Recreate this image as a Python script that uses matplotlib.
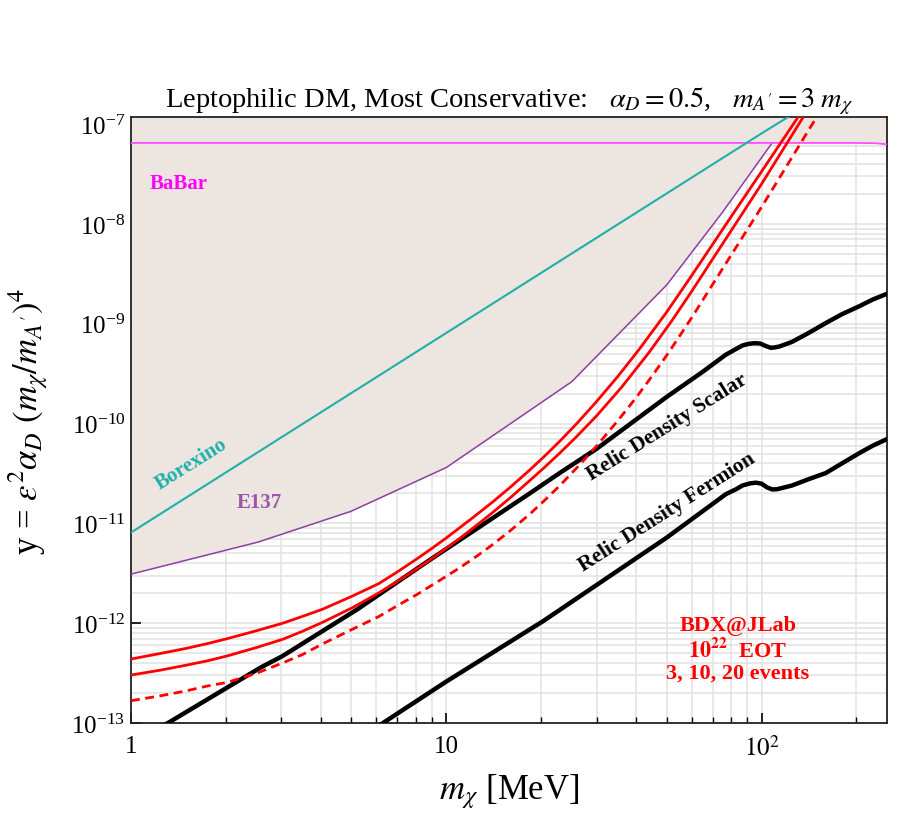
import matplotlib
matplotlib.use('Agg')
import matplotlib.pyplot as plt
import numpy as np
from matplotlib.ticker import FixedLocator, LogLocator, NullFormatter

plt.rcParams['font.family'] = ['Liberation Serif', 'DejaVu Serif']
plt.rcParams['mathtext.fontset'] = 'stix'

# limits
x_min, x_max = 1, 250
y_min, y_max = 1e-13, 1.18e-7

# excluded regions
e137_x = [1, 2.53, 4.98, 10, 25, 50, 75, 108]
e137_y = [3.1e-12, 6.5e-12, 1.32e-11, 3.63e-11, 2.63e-10, 2.45e-9, 1.3e-8, 6.5e-8]

babar_x = [1, 108, 200, 230, 250]
babar_y = [6.5e-8, 6.5e-8, 6.5e-8, 6.45e-8, 6.3e-8]

borexino_x = [1, 10, 100, 130]
borexino_y = [8.1e-12, 8.1e-10, 8.1e-8, 1.35e-7]

# BDX reach: 3, 10, 20 events
bdx3_x = [1, 1.25, 1.5, 1.75, 2.02, 2.5, 3.03, 3.5, 4.05, 5.04, 6.12, 7, 8.1, 9, 10, 12, 14,
          16, 18.4, 20.5, 22.9, 26, 30, 35, 41, 50, 60, 70, 80, 100, 131]
bdx3_y = [4.37e-13, 5.0e-13, 5.6e-13, 6.25e-13, 7.0e-13, 8.4e-13, 1.0e-12, 1.17e-12, 1.38e-12,
          1.87e-12, 2.5e-12, 3.27e-12, 4.45e-12, 5.61e-12, 7.15e-12, 1.11e-11, 1.63e-11,
          2.32e-11, 3.43e-11, 4.72e-11, 6.65e-11, 1.01e-10, 1.67e-10, 2.97e-10, 5.6e-10,
          1.31e-9, 3.04e-9, 6.28e-9, 1.18e-8, 3.36e-8, 1.2e-7]

bdx10_x = [1, 1.25, 1.5, 1.75, 2.02, 2.5, 3.03, 3.5, 4.05, 5.04, 6.12, 7, 8.1, 9, 10, 11.3,
           12.8, 14, 16, 18.4, 20.5, 22.9, 26, 30, 36, 44, 52, 60, 70, 80, 100, 136]
bdx10_y = [3.02e-13, 3.4e-13, 3.8e-13, 4.2e-13, 4.7e-13, 5.7e-13, 6.9e-13, 8.3e-13, 1.02e-12,
           1.43e-12, 2.02e-12, 2.62e-12, 3.54e-12, 4.44e-12, 5.63e-12, 7.5e-12,
           1.02e-11, 1.28e-11, 1.82e-11, 2.69e-11, 3.65e-11, 5.06e-11, 7.5e-11, 1.2e-10,
           2.32e-10, 5.18e-10, 1.08e-9, 2.11e-9, 4.47e-9, 8.53e-9, 2.52e-8, 1.2e-7]

bdx20_x = [1, 1.25, 1.5, 1.75, 2.02, 2.5, 3.03, 3.5, 4.05, 5.04, 6.12, 7, 8.1, 9, 10, 11.1,
           12.5, 14, 16, 18.4, 20.5, 22.9, 26.5, 30, 35, 40, 45, 51, 60, 70, 85, 100, 150]
bdx20_y = [1.67e-13, 1.88e-13, 2.1e-13, 2.35e-13, 2.55e-13, 3.15e-13, 4.0e-13, 4.85e-13, 6.2e-13,
           8.7e-13, 1.17e-12, 1.5e-12, 1.95e-12, 2.4e-12, 2.95e-12, 3.64e-12,
           4.7e-12, 6.1e-12, 8.51e-12, 1.24e-11, 1.7e-11, 2.39e-11, 3.87e-11, 5.98e-11,
           1.07e-10, 1.82e-10, 3.01e-10, 5.28e-10, 1.15e-9, 2.49e-9, 6.58e-9, 1.48e-8, 1.2e-7]

# relic density targets
scalar_x = [1.0, 1.31, 2.58, 3.03, 5.23, 8.93, 12.8, 18.4, 22.9, 30, 50, 65, 77, 83, 87,
            91, 95, 99, 103, 107, 110, 114, 125, 140, 160, 180, 205, 225, 250]
scalar_y = [6.3e-14, 1e-13, 3.6e-13, 4.7e-13, 1.38e-12, 4.37e-12, 9.3e-12, 2.0e-11, 3.2e-11,
            5.6e-11, 1.85e-10, 3.3e-10, 4.9e-10, 5.6e-10, 6.07e-10,
            6.3e-10, 6.4e-10, 6.35e-10, 6.0e-10, 5.75e-10, 5.8e-10, 5.93e-10, 6.6e-10, 8.0e-10,
            1.02e-9, 1.25e-9, 1.51e-9, 1.75e-9, 2.0e-9]

fermion_x = [6.0, 6.3, 10, 20.3, 50, 77, 83, 87, 92, 96, 100, 104, 108, 112, 125, 140, 160,
             180, 205, 225, 250]
fermion_y = [9e-14, 1e-13, 2.6e-13, 1.05e-12, 7.2e-12, 1.96e-11, 2.2e-11, 2.4e-11, 2.52e-11,
             2.56e-11, 2.5e-11, 2.3e-11, 2.19e-11, 2.2e-11, 2.4e-11, 2.75e-11, 3.2e-11,
             4.0e-11, 5.1e-11, 6.0e-11, 7.0e-11]

fig = plt.figure(figsize=(9.02, 8.2), dpi=100)
ax = fig.add_axes([0.1452, 0.1171, 0.8382, 0.7389])
ax.set_xscale('log')
ax.set_yscale('log')
ax.set_xlim(x_min, x_max)
ax.set_ylim(y_min, y_max)

# grid under everything
ax.set_axisbelow(True)
ax.grid(True, which='both', color='#e2e2e2', lw=1.1)

# shaded excluded area: above E137 then above BaBar
bx = np.array(babar_x)
edge_x = np.concatenate([e137_x, bx[bx > e137_x[-1]]])
edge_y = np.concatenate([e137_y, np.array(babar_y)[bx > e137_x[-1]]])
ax.fill_between(edge_x, edge_y, y_max * 2, color='#ede5df', lw=0, zorder=1)

ax.plot(e137_x, e137_y, color='#8e3fa6', lw=1.1, zorder=3)
ax.plot(babar_x, babar_y, color='#ff4dff', lw=1.3, zorder=3)
ax.plot(borexino_x, borexino_y, color='#1fb0ac', lw=1.5, zorder=3)

ax.plot(scalar_x, scalar_y, color='black', lw=3.2, zorder=4, solid_capstyle='round',
        solid_joinstyle='round')
ax.plot(fermion_x, fermion_y, color='black', lw=3.2, zorder=4, solid_capstyle='round',
        solid_joinstyle='round')

ax.plot(bdx3_x, bdx3_y, color='#ff0000', lw=2.0, zorder=5, solid_joinstyle='round')
ax.plot(bdx10_x, bdx10_y, color='#ff0000', lw=2.0, zorder=5, solid_joinstyle='round')
ax.plot(bdx20_x, bdx20_y, color='#ff0000', lw=2.0, ls=(0, (3.2, 2.0)), zorder=5)

# ticks
ax.xaxis.set_major_locator(FixedLocator([1, 10, 100]))
ax.set_xticklabels(['1', '10', '$10^2$'])
ax.xaxis.set_minor_locator(LogLocator(base=10, subs=np.arange(2, 10)))
ax.xaxis.set_minor_formatter(NullFormatter())
ax.yaxis.set_major_locator(FixedLocator([1e-13, 1e-12, 1e-11, 1e-10, 1e-9, 1e-8, 1e-7]))
ax.yaxis.set_minor_locator(LogLocator(base=10, subs=np.arange(2, 10), numticks=20))
ax.yaxis.set_minor_formatter(NullFormatter())
ax.tick_params(which='major', direction='in', length=7, width=1.2, labelsize=18, pad=9)
ax.tick_params(which='minor', direction='in', length=4, width=1.0)
ax.tick_params(axis='y', which='minor', length=0)
ax.tick_params(axis='y', which='major', pad=4)
for s in ax.spines.values():
    s.set_linewidth(1.3)
    s.set_color('#222222')

ax.set_title(r"Leptophilic DM, Most Conservative:   $\alpha_D = 0.5$,   $m_{A'} = 3\;m_\chi$",
             fontsize=20.5, pad=8)
ax.set_xlabel(r"$m_\chi$ [MeV]", fontsize=25, labelpad=8)
ax.set_ylabel(r"y = $\epsilon^2\alpha_D\ (m_\chi/m_{A'})^4$", fontsize=25)
ax.yaxis.set_label_coords(-0.107, 0.5)

# labels
ax.text(1.15, 2.6e-8, 'BaBar', color='#ff00ff', fontsize=15, fontweight='bold', va='center')
ax.text(1.55, 4.0e-11, 'Borexino', color='#1fb0ac', fontsize=15, fontweight='bold',
        rotation=32, ha='center', va='center', rotation_mode='anchor')
ax.text(2.56, 1.62e-11, 'E137', color='#9b55aa', fontsize=15, fontweight='bold',
        ha='center', va='center')
ax.text(50, 9.3e-11, 'Relic Density Scalar', fontsize=15.5, fontweight='bold',
        rotation=32, ha='center', va='center', rotation_mode='anchor')
ax.text(50, 1.32e-11, 'Relic Density Fermion', fontsize=15.5, fontweight='bold',
        rotation=32.5, ha='center', va='center', rotation_mode='anchor')
ax.text(84, 5.5e-13, 'BDX@JLab\n$\\mathbf{10^{22}}$  EOT\n3, 10, 20 events', color='#ff0000',
        fontsize=16, fontweight='bold', ha='center', va='center', linespacing=1.1)

fig.savefig('out.png', dpi=100)
